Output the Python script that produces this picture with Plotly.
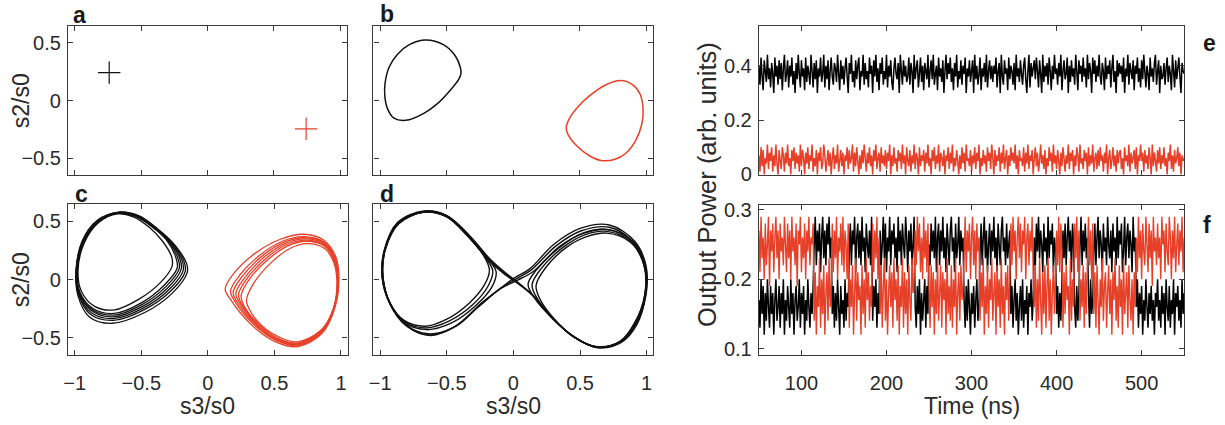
import plotly.graph_objects as go

W, H = 1225, 425
BLACK = "#111111"
RED = "#E64128"
AXC = "#3a3a3a"
TXT = "#2a2a2a"
FONT = "Liberation Sans, Arial, Helvetica, sans-serif"

# ---------------- data ----------------
# panel a: fixed points (s3/s0, s2/s0)
a_black_point = (-0.74, 0.243)
a_red_point = (0.743, -0.244)

# panel b: single limit cycles (s3/s0, s2/s0)
b_black_loop = [(-0.659, 0.525), (-0.522, 0.483), (-0.435, 0.387), (-0.398, 0.29), (-0.393, 0.235),
                (-0.41, 0.185), (-0.473, 0.091), (-0.572, -0.028), (-0.672, -0.11), (-0.808, -0.171),
                (-0.896, -0.152), (-0.945, -0.069), (-0.965, 0.041), (-0.963, 0.152), (-0.933, 0.29),
                (-0.871, 0.401), (-0.784, 0.483)]
b_red_loop = [(0.808, 0.174), (0.896, 0.138), (0.953, 0.055), (0.975, -0.069), (0.965, -0.207),
              (0.92, -0.345), (0.846, -0.456), (0.759, -0.511), (0.659, -0.519), (0.572, -0.478),
              (0.473, -0.387), (0.41, -0.29), (0.398, -0.235), (0.423, -0.152), (0.485, -0.055),
              (0.572, 0.041), (0.697, 0.138)]

# panel c: quasi-periodic orbits, several turns each
c_black_loops = [
    [(-0.68, 0.565), (-0.56, 0.54), (-0.44, 0.45), (-0.34, 0.33), (-0.27, 0.19), (-0.27, 0.11), (-0.36, -0.03),
     (-0.52, -0.17), (-0.70, -0.26), (-0.85, -0.23), (-0.95, -0.10), (-0.975, 0.08), (-0.93, 0.31), (-0.82, 0.49)],
    [(-0.69, 0.57), (-0.55, 0.545), (-0.42, 0.455), (-0.31, 0.34), (-0.24, 0.19), (-0.23, 0.10), (-0.33, -0.05),
     (-0.50, -0.20), (-0.70, -0.29), (-0.86, -0.25), (-0.96, -0.11), (-0.98, 0.08), (-0.935, 0.32), (-0.82, 0.50)],
    [(-0.675, 0.572), (-0.545, 0.548), (-0.415, 0.455), (-0.30, 0.335), (-0.225, 0.185), (-0.215, 0.095),
     (-0.315, -0.06), (-0.495, -0.215), (-0.705, -0.305), (-0.865, -0.26), (-0.962, -0.115), (-0.982, 0.08),
     (-0.935, 0.32), (-0.818, 0.502)],
    [(-0.67, 0.575), (-0.54, 0.55), (-0.41, 0.46), (-0.29, 0.33), (-0.21, 0.18), (-0.20, 0.09), (-0.30, -0.07),
     (-0.49, -0.23), (-0.71, -0.32), (-0.87, -0.27), (-0.965, -0.12), (-0.985, 0.08), (-0.935, 0.32), (-0.815, 0.505)],
    [(-0.665, 0.578), (-0.535, 0.55), (-0.405, 0.455), (-0.28, 0.325), (-0.195, 0.17), (-0.185, 0.08),
     (-0.29, -0.085), (-0.485, -0.245), (-0.71, -0.335), (-0.875, -0.285), (-0.968, -0.125), (-0.988, 0.08),
     (-0.938, 0.325), (-0.82, 0.505)],
    [(-0.66, 0.58), (-0.53, 0.55), (-0.40, 0.45), (-0.27, 0.32), (-0.18, 0.16), (-0.17, 0.07), (-0.28, -0.10),
     (-0.48, -0.26), (-0.71, -0.35), (-0.88, -0.30), (-0.97, -0.13), (-0.99, 0.08), (-0.94, 0.33), (-0.82, 0.51)],
    [(-0.67, 0.58), (-0.52, 0.55), (-0.38, 0.44), (-0.25, 0.30), (-0.16, 0.14), (-0.155, 0.06), (-0.27, -0.12),
     (-0.47, -0.28), (-0.72, -0.375), (-0.89, -0.32), (-0.975, -0.14), (-0.99, 0.07), (-0.945, 0.33), (-0.83, 0.51)],
]
c_red_loops = [
    [(0.72, 0.39), (0.87, 0.34), (0.96, 0.20), (0.985, 0.02), (0.955, -0.24), (0.86, -0.46), (0.68, -0.575),
     (0.50, -0.53), (0.32, -0.38), (0.17, -0.17), (0.13, -0.08), (0.20, 0.06), (0.36, 0.23), (0.54, 0.345)],
    [(0.72, 0.37), (0.87, 0.325), (0.955, 0.19), (0.98, 0.01), (0.95, -0.24), (0.855, -0.455), (0.68, -0.565),
     (0.51, -0.52), (0.34, -0.38), (0.20, -0.18), (0.17, -0.10), (0.24, 0.04), (0.39, 0.21), (0.56, 0.33)],
    [(0.725, 0.36), (0.87, 0.318), (0.952, 0.185), (0.978, 0.005), (0.948, -0.245), (0.852, -0.452),
     (0.675, -0.56), (0.51, -0.515), (0.35, -0.38), (0.22, -0.19), (0.19, -0.11), (0.26, 0.03), (0.405, 0.2),
     (0.57, 0.32)],
    [(0.73, 0.35), (0.87, 0.31), (0.95, 0.18), (0.975, 0.0), (0.945, -0.25), (0.85, -0.45), (0.67, -0.555),
     (0.51, -0.51), (0.36, -0.38), (0.24, -0.20), (0.21, -0.12), (0.28, 0.02), (0.42, 0.19), (0.58, 0.31)],
    [(0.735, 0.34), (0.872, 0.30), (0.95, 0.17), (0.975, -0.005), (0.945, -0.25), (0.85, -0.445), (0.67, -0.55),
     (0.515, -0.505), (0.37, -0.38), (0.255, -0.21), (0.23, -0.13), (0.295, 0.01), (0.435, 0.18), (0.59, 0.30)],
    [(0.74, 0.33), (0.875, 0.29), (0.95, 0.16), (0.975, -0.01), (0.945, -0.25), (0.85, -0.44), (0.67, -0.545),
     (0.52, -0.50), (0.38, -0.38), (0.27, -0.22), (0.25, -0.14), (0.31, 0.0), (0.45, 0.17), (0.60, 0.29)],
    [(0.74, 0.31), (0.875, 0.27), (0.945, 0.15), (0.97, -0.02), (0.94, -0.26), (0.845, -0.44), (0.67, -0.535),
     (0.53, -0.49), (0.40, -0.39), (0.31, -0.25), (0.29, -0.18), (0.34, -0.04), (0.47, 0.14), (0.62, 0.27)],
]

# panel d: chaotic double-scroll orbits
d_loops = [
    [(-0.67, 0.59), (-0.50, 0.55), (-0.33, 0.38), (-0.17, 0.17), (-0.05, 0.05), (0.03, -0.02), (0.14, -0.13),
     (0.29, -0.33), (0.45, -0.49), (0.62, -0.58), (0.80, -0.535), (0.92, -0.38), (0.995, -0.13), (0.995, 0.12),
     (0.91, 0.33), (0.72, 0.47), (0.50, 0.44), (0.30, 0.30), (0.12, 0.09), (0.0, 0.01), (-0.08, -0.06),
     (-0.24, -0.20), (-0.42, -0.39), (-0.62, -0.48), (-0.80, -0.40), (-0.92, -0.22), (-0.985, 0.02),
     (-0.97, 0.25), (-0.87, 0.49)],
    [(-0.67, 0.58), (-0.51, 0.545), (-0.34, 0.375), (-0.18, 0.16), (-0.06, 0.04), (0.03, -0.03), (0.15, -0.14),
     (0.30, -0.34), (0.46, -0.495), (0.63, -0.585), (0.81, -0.54), (0.925, -0.39), (0.99, -0.14), (0.985, 0.11),
     (0.90, 0.32), (0.72, 0.45), (0.51, 0.42), (0.32, 0.29), (0.13, 0.08), (0.01, 0.0), (-0.09, -0.07),
     (-0.25, -0.22), (-0.43, -0.40), (-0.63, -0.475), (-0.81, -0.39), (-0.925, -0.21), (-0.98, 0.03),
     (-0.965, 0.26), (-0.865, 0.485)],
    [(-0.67, 0.585), (-0.50, 0.55), (-0.335, 0.38), (-0.175, 0.165), (-0.055, 0.045), (0.03, -0.025),
     (0.145, -0.135), (0.295, -0.335), (0.455, -0.49), (0.625, -0.58), (0.805, -0.535), (0.92, -0.385),
     (0.99, -0.135), (0.99, 0.115), (0.905, 0.32), (0.72, 0.43), (0.53, 0.40), (0.34, 0.28), (0.15, 0.07),
     (0.02, -0.01), (-0.10, -0.08), (-0.27, -0.24), (-0.45, -0.41), (-0.64, -0.465), (-0.81, -0.385),
     (-0.925, -0.205), (-0.98, 0.025), (-0.965, 0.255), (-0.865, 0.485)],
    [(-0.67, 0.58), (-0.50, 0.54), (-0.34, 0.37), (-0.22, 0.20), (-0.18, 0.08), (-0.22, -0.05), (-0.33, -0.20),
     (-0.50, -0.34), (-0.66, -0.40), (-0.82, -0.35), (-0.93, -0.19), (-0.98, 0.03), (-0.96, 0.26), (-0.86, 0.48)],
    [(-0.67, 0.585), (-0.50, 0.545), (-0.34, 0.375), (-0.20, 0.19), (-0.13, 0.07), (-0.16, -0.06), (-0.28, -0.22),
     (-0.46, -0.37), (-0.65, -0.43), (-0.82, -0.37), (-0.93, -0.20), (-0.985, 0.02), (-0.965, 0.26), (-0.865, 0.485)],
    [(-0.67, 0.58), (-0.50, 0.545), (-0.34, 0.37), (-0.21, 0.19), (-0.155, 0.075), (-0.19, -0.055), (-0.30, -0.21),
     (-0.48, -0.355), (-0.655, -0.415), (-0.82, -0.36), (-0.93, -0.195), (-0.98, 0.025), (-0.962, 0.26), (-0.862, 0.482)],
    [(0.70, 0.40), (0.88, 0.32), (0.98, 0.12), (0.985, -0.13), (0.91, -0.37), (0.80, -0.53), (0.62, -0.575),
     (0.45, -0.49), (0.30, -0.33), (0.20, -0.17), (0.17, -0.05), (0.24, 0.10), (0.40, 0.28), (0.55, 0.37)],
    [(0.70, 0.43), (0.89, 0.33), (0.985, 0.12), (0.99, -0.13), (0.915, -0.38), (0.80, -0.535), (0.62, -0.58),
     (0.45, -0.49), (0.29, -0.33), (0.16, -0.16), (0.11, -0.04), (0.17, 0.08), (0.34, 0.27), (0.52, 0.40)],
    [(0.70, 0.415), (0.885, 0.325), (0.982, 0.12), (0.987, -0.13), (0.912, -0.375), (0.80, -0.532), (0.62, -0.578),
     (0.45, -0.49), (0.295, -0.33), (0.18, -0.165), (0.14, -0.045), (0.205, 0.09), (0.37, 0.275), (0.535, 0.385)],
]

# panels e, f: output power time traces (hundredths of arb. units), 1.25 ns sampling from 50 ns
t_start, t_step = 50.0, 1.25
e_black = [40,33,43,36,31,42,38,34,44,35,39,32,41,37,30,43,36,40,33,42,
           35,41,31,39,44,34,37,42,32,40,36,43,33,38,30,41,35,44,37,32,
           42,36,39,31,43,34,40,37,33,44,38,32,41,35,42,30,39,36,43,34,
           37,44,32,40,35,42,31,38,43,36,33,41,39,34,44,37,31,42,35,40,
           33,39,43,36,30,41,37,44,34,38,32,42,35,40,43,31,38,36,44,33,
           41,35,38,32,43,37,40,30,42,36,44,34,39,31,41,37,43,33,38,35,
           44,32,40,36,42,34,31,39,43,37,35,41,30,44,38,33,42,36,40,34,
           36,43,33,41,38,30,44,35,39,42,32,37,43,34,40,31,41,38,35,44,
           32,38,42,35,44,33,37,40,31,43,36,39,34,42,30,38,44,35,41,37,
           43,34,39,31,41,36,44,32,38,35,42,33,40,37,43,30,39,36,42,34,
           38,42,30,44,35,40,33,37,43,31,39,36,41,34,44,32,38,42,35,40,
           34,40,37,43,32,38,41,30,44,36,33,42,37,39,31,43,35,40,38,33,
           41,31,44,36,39,34,42,37,33,40,43,35,30,38,44,32,41,36,39,42,
           35,43,38,32,42,37,30,44,34,40,36,41,33,43,38,31,40,35,44,37,
           39,33,41,36,44,31,38,42,35,37,43,30,40,34,42,36,39,33,44,38,
           31,42,37,40,34,43,36,39,32,44,35,41,38,30,43,37,42,34,40,36,
           44,36,33,41,38,31,43,35,40,37,42,32,39,44,34,38,30,42,36,41,
           37,40,34,43,30,39,36,44,33,41,38,35,42,31,40,37,43,34,39,32,
           42,35,44,38,32,40,37,31,43,36,39,34,41,44,33,38,42,30,40,35,
           36,41,33,39,43,34,40,37,31,44,38,32,42,35,39,43,36,30,41,38,37]
e_red = [7,1,10,3,9,0,6,4,11,2,8,5,10,1,7,3,11,4,0,9,
         5,2,10,7,1,8,4,11,3,6,0,9,5,10,2,8,4,7,1,11,
         3,9,6,0,8,4,10,2,7,5,11,1,6,3,9,0,8,5,10,2,
         4,11,7,1,5,9,3,8,0,6,10,2,7,4,11,1,5,9,3,8,
         0,7,5,10,2,9,4,6,11,1,8,3,10,5,0,7,2,9,4,11,
         6,1,8,4,10,3,7,0,9,5,11,2,6,8,1,10,4,7,3,9,
         2,8,5,11,0,7,3,10,4,6,1,9,5,8,2,11,4,7,0,10,
         5,3,9,1,7,4,11,2,8,6,0,10,3,7,5,9,1,8,4,11,
         3,6,0,9,5,10,2,7,4,11,1,8,6,3,9,0,7,5,10,2,
         8,4,11,1,6,3,9,5,0,7,2,10,4,8,1,11,5,6,3,9,
         1,7,4,10,2,8,5,11,0,6,3,9,4,7,1,10,5,8,2,11,
         6,0,9,3,7,5,10,1,8,4,11,2,6,9,0,7,3,10,5,8,
         4,11,2,7,0,9,5,6,3,10,1,8,4,11,2,7,5,9,0,6,
         10,3,8,1,5,11,4,7,2,9,0,6,3,10,5,8,1,11,4,7,
         2,9,5,0,8,3,10,6,1,7,4,11,2,8,5,9,0,7,3,10,
         7,1,11,4,6,2,9,5,8,0,10,3,7,4,11,1,6,8,2,9,
         3,10,5,7,1,8,4,11,0,6,9,2,5,10,3,7,1,9,4,8,
         9,2,6,0,10,5,7,3,11,1,8,4,6,9,2,10,0,7,5,11,
         5,8,1,9,4,7,2,10,6,0,11,3,8,5,1,9,4,10,2,7,
         4,10,3,6,0,8,5,11,2,7,1,9,4,6,10,3,8,0,7,5,6]

# panel f: the two polarisation modes switch between a high and a low band
f_black_segments = [
    [17,13,20,15,19,12,18,14,20,16,13,19,15,18,12,17,20,14,16,19,13,18,15,20,12,17,
     14,19,16,13,20,15,18,12,17,19,14,16,20,13,18,15,19,12,17,14,20,16,13,18,15,19],
    [25,29,22,27,24,28,21,26,29,23,27,22,28,25,29,23,26],
    [15,19,13,18,14,20,16,12,19,15,17,13,20,14,18,16],
    [24,28,22,27,25,29,21,26,28,23,27,22,29,24,26,21,28,25,23,27,22,29],
    [14,19,16,20,13,18,15],
    [27,22,25,29,23,28,21,26,24,29,22,27,25,28,23,26,21,29,24,27,22,28,25,23,29,26,21,27,24,28,22,25,29],
    [16,13,19,15,20,12,18,14,17,20,13,19,15],
    [25,22,28,24,27,23,29,21,26,28,22,27,24,29,23,26,21,28,25,22,27,29,24,26,21,28,23,25,29,22,27,24,26],
    [17,13,19,14,20,16,12,18,15,19,13,17,20,14,16],
    [24,28,22,26,29,23,27,21,25,28,22,27,24,29,23,26,21,28,25,22,27,29,24,26,22,28,23,25,27],
    [15,19,13,17,20,14,18,12,16,19,14,20,13,17,15,19,12,18,16,20,14,17],
    [26,22,28,24,29,23,27,25,21,28,24,26,22,29,23,27,25,28,21,26,24],
    [15,19,13,18,14,20],
    [27,23,28,22,26,29,24,27,21,28,25],
    [16,13,19,14,18],
    [25,29,22,27,24,28,23,26],
    [18,13,20,15,17],
    [24,28,22,26,29,23,27,25,21,28,24,26,22,29,25,23,27,21,28,24,26,22,29,23,27,25,28,21,24,29,
     22,26,28,23,27,25,21,29,24,26],
    [16,20,13,18,15,19,12,17,14,20,16,13,18,15,19,14,17,12,18,16,20,14,17,13,19,15,18,12,20,16,
     14,19,13,17,15,20,12,18,16,19,14,17,13,20,15,18],
]
f_red_segments = [
    [27,21,29,23,26,20,28,22,25,29,19,27,24,28,21,26,29,23,27,20,28,24,26,22,29,25,
     21,28,23,27,20,29,24,26,22,28,19,27,25,29,21,26,23,28,20,27,24,29,22,26,25,28],
    [14,21,12,19,16,23,13,20,15,22,12,18,21,14,23,16,19],
    [28,21,27,23,29,20,26,24,28,22,29,21,27,25,20,28],
    [13,20,16,22,12,18,23,14,21,17,19,12,22,15,20,13,23,17,21,14,19,16],
    [28,21,27,23,29,20,26],
    [15,22,13,19,23,14,20,12,18,22,16,21,13,23,17,20,14,22,12,19,16,23,13,21,15,20,12,22,17,14,23,18,20],
    [27,22,29,24,28,21,26,20,29,23,27,21,28],
    [19,13,22,16,21,12,20,15,23,14,18,22,13,21,17,20,12,23,15,19,14,22,13,20,16,23,12,18,21,14,22,17,19],
    [23,29,21,27,24,28,20,26,29,22,27,20,28,24,26],
    [14,21,16,23,12,19,15,22,13,20,17,23,14,18,21,12,22,16,20,13,23,15,19,12,21,17,22,14,20],
    [28,22,29,24,27,20,26,29,23,28,21,27,25,29,20,26,28,22,27,24,29,21],
    [16,22,13,20,14,23,17,12,21,15,22,13,19,23,14,20,12,18,22,15,21],
    [27,22,29,21,28,24],
    [13,21,15,22,17,19,12,23,14,20,16],
    [28,23,29,21,27],
    [14,20,16,22,13,21,15,23],
    [29,22,27,20,28],
    [15,21,13,22,17,12,20,16,23,14,19,21,13,18,22,15,20,12,21,17,23,14,19,13,22,16,20,12,23,15,
     18,21,13,22,17,14,20,12,21,16],
    [26,21,29,23,27,20,28,24,22,29,25,21,28,23,27,19,29,24,26,22,28,23,26,20,29,25,27,21,28,24,
     22,29,26,20,27,23,29,21,25,28,22,27,24,29,21,26],
]
f_black = [v for seg in f_black_segments for v in seg]
f_red = [v for seg in f_red_segments for v in seg]

loop_ticks = [-1, -0.5, 0, 0.5, 1]
s2_ticks = [-0.5, 0, 0.5]
time_ticks = [100, 200, 300, 400, 500]
e_ticks = [0, 0.2, 0.4]
f_ticks = [0.1, 0.2, 0.3]

# ---------------- figure ----------------
fig = go.Figure()


def add_loop(pts, color, ax, width):
    xs = [p[0] for p in pts] + [pts[0][0]]
    ys = [p[1] for p in pts] + [pts[0][1]]
    fig.add_trace(go.Scatter(x=xs, y=ys, mode="lines", xaxis="x" + ax, yaxis="y" + ax,
                             line=dict(color=color, width=width, shape="spline", smoothing=1.0),
                             hoverinfo="skip", showlegend=False))


def add_series(vals, color, ax, width):
    ts = [t_start + i * t_step for i in range(len(vals))]
    fig.add_trace(go.Scatter(x=ts, y=[v / 100 for v in vals], mode="lines", xaxis="x" + ax, yaxis="y" + ax,
                             line=dict(color=color, width=width, simplify=False),
                             hoverinfo="skip", showlegend=False))


# a
for pt, col in [(a_black_point, BLACK), (a_red_point, RED)]:
    fig.add_trace(go.Scatter(x=[pt[0]], y=[pt[1]], mode="markers", xaxis="x", yaxis="y",
                             marker=dict(symbol="cross-thin", size=16, line=dict(color=col, width=1.2)),
                             hoverinfo="skip", showlegend=False))
# b
add_loop(b_black_loop, BLACK, "2", 1.5)
add_loop(b_red_loop, RED, "2", 1.5)
# c
for lp in c_black_loops:
    add_loop(lp, BLACK, "3", 1.3)
for lp in c_red_loops:
    add_loop(lp, RED, "3", 1.3)
# d
for lp in d_loops:
    add_loop(lp, BLACK, "4", 1.4)
# e
add_series(e_black, "#000000", "5", 1.5)
add_series(e_red, RED, "5", 1.5)
# f
add_series(f_black, "#000000", "6", 1.5)
add_series(f_red, RED, "6", 1.4)


def dx(l, r):
    return [l / W, r / W]


def dy(t, b):
    return [1 - b / H, 1 - t / H]


base = dict(showline=True, linecolor=AXC, linewidth=1.3, mirror="allticks", ticks="inside", ticklen=5,
            tickcolor=AXC, tickwidth=1, showgrid=False, zeroline=False,
            tickfont=dict(family=FONT, size=20, color=TXT))

loop_x = dict(base, range=[-1.05, 1.05], tickmode="array", tickvals=loop_ticks, ticklabelstandoff=10)
loop_y = dict(base, range=[-0.648, 0.648], tickmode="array", tickvals=s2_ticks, ticklabelstandoff=2)
time_x = dict(base, range=[50, 550], tickmode="array", tickvals=time_ticks, ticklabelstandoff=10)

panels = {
    "": (dx(63.3, 343.3), dy(20.7, 176), loop_x, loop_y, False, True),
    "2": (dx(370, 650.7), dy(20.7, 176), loop_x, loop_y, False, False),
    "3": (dx(63.3, 344), dy(206, 362.7), loop_x, loop_y, True, True),
    "4": (dx(370, 651), dy(206, 362.7), loop_x, loop_y, True, False),
    "5": (dx(757, 1184), dy(20.5, 176), time_x,
          dict(base, range=[-0.0035, 0.547], tickmode="array", tickvals=e_ticks, ticklabelstandoff=2), False, True),
    "6": (dx(757, 1184), dy(207, 363), time_x,
          dict(base, range=[0.0903, 0.3065], tickmode="array", tickvals=f_ticks, ticklabelstandoff=2), True, True),
}

layout_axes = {}
for k, (xd, yd, xa, ya, showx, showy) in panels.items():
    layout_axes["xaxis" + k] = dict(xa, domain=xd, anchor="y" + k, showticklabels=showx)
    layout_axes["yaxis" + k] = dict(ya, domain=yd, anchor="x" + k, showticklabels=showy)

annotations = []


def txt(text, px, py, size=22, bold=False, angle=0):
    annotations.append(dict(text=("<b>%s</b>" % text) if bold else text, x=px / W, y=1 - py / H,
                            xref="paper", yref="paper", showarrow=False, textangle=angle,
                            xanchor="center", yanchor="middle",
                            font=dict(family=FONT, size=size, color="#1a1a1a" if bold else TXT)))


txt("a", 75, 9, 23, True)
txt("b", 383.5, 8, 23, True)
txt("c", 76.5, 195, 23, True)
txt("d", 383.5, 195, 23, True)
txt("e", 1209, 38, 23, True)
txt("f", 1207, 228, 23, True)
txt("s2/s0", 16, 98, 23, angle=-90)
txt("s2/s0", 16, 284, 23, angle=-90)
txt("s3/s0", 203.5, 416, 23)
txt("s3/s0", 510.5, 416, 23)
txt("Time (ns)", 970.5, 416, 23)
txt("Output Power (arb. units)", 705, 186, 25.5, angle=-90)

fig.update_layout(width=W, height=H, margin=dict(l=0, r=0, t=0, b=0), paper_bgcolor="white",
                  plot_bgcolor="white", showlegend=False, annotations=annotations, **layout_axes)

fig.write_html("out.html", config={"displayModeBar": False},
               post_script="document.body.style.margin='0';document.body.style.overflow='hidden';")
